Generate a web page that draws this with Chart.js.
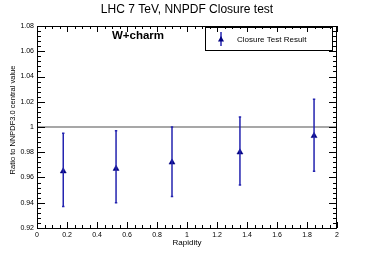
<!DOCTYPE html>
<html>
<head>
<meta charset="utf-8">
<script src="https://cdn.jsdelivr.net/npm/chart.js@4/dist/chart.umd.min.js"></script>
<style>
  html, body { margin: 0; padding: 0; background: #fff; }
  #wrap { width: 374px; height: 254px; }
</style>
</head>
<body>
<div id="wrap"><canvas id="chart" width="374" height="254"></canvas></div>
<script>
// ===== data =====
const rapidity = [0.175, 0.527, 0.90, 1.353, 1.847];
const ratio    = [0.965, 0.967, 0.972, 0.980, 0.993];
const errLow   = [0.937, 0.940, 0.945, 0.954, 0.965];
const errHigh  = [0.995, 0.997, 1.000, 1.008, 1.022];
const refLine  = [[0, 1], [2, 1]];

const FONT = "'Liberation Sans', Arial, sans-serif";
const MARK = '#000080';
const BAR = '#2424b0';

// trims "1.00" -> "1", "0.20" -> "0.2" like ROOT does
const fmt = v => String(Number(v.toFixed(3)));

// ===== error bars =====
const errorBars = {
  id: 'errorBars',
  afterDatasetsDraw(chart) {
    const { ctx, scales: { x, y } } = chart;
    ctx.save();
    ctx.strokeStyle = BAR;
    ctx.lineWidth = 1.5;
    rapidity.forEach((r, i) => {
      const px = x.getPixelForValue(r);
      const top = y.getPixelForValue(errHigh[i]);
      const bot = y.getPixelForValue(errLow[i]);
      ctx.beginPath();
      ctx.moveTo(px, top); ctx.lineTo(px, bot);
      ctx.moveTo(px - 1.2, top); ctx.lineTo(px + 1.2, top);
      ctx.moveTo(px - 1.2, bot); ctx.lineTo(px + 1.2, bot);
      ctx.stroke();
    });
    ctx.restore();
  }
};

// ===== ROOT-like frame, inward ticks, texts, legend =====
const frame = {
  id: 'frame',
  afterDraw(chart) {
    const { ctx, chartArea: a, scales: { x, y } } = chart;
    ctx.save();
    ctx.strokeStyle = '#000';
    ctx.lineWidth = 1;
    ctx.strokeRect(a.left + 0.5, a.top + 0.5, a.right - a.left - 1, a.bottom - a.top);

    ctx.beginPath();
    // x ticks (bottom & top)
    for (let k = 0; k <= 40; k++) {
      const v = k * 0.05;
      const px = Math.round(x.getPixelForValue(v)) + 0.5;
      const len = k % 4 === 0 ? 6 : 3;
      ctx.moveTo(px, a.bottom); ctx.lineTo(px, a.bottom - len);
      ctx.moveTo(px, a.top); ctx.lineTo(px, a.top + len);
    }
    // y ticks (left & right)
    for (let k = 0; k <= 40; k++) {
      const v = 0.92 + k * 0.004;
      const py = Math.round(y.getPixelForValue(v)) + 0.5;
      const len = k % 5 === 0 ? 8 : 4;
      ctx.moveTo(a.left, py); ctx.lineTo(a.left + len, py);
      ctx.moveTo(a.right, py); ctx.lineTo(a.right - len, py);
    }
    ctx.stroke();

    // titles
    ctx.fillStyle = '#000';
    ctx.textAlign = 'center';
    ctx.textBaseline = 'middle';
    ctx.font = '12px ' + FONT;
    ctx.fillText('LHC 7 TeV, NNPDF Closure test', 187, 10);
    ctx.font = '8px ' + FONT;
    ctx.fillText('Rapidity', 187, 243);
    ctx.font = 'bold 11.5px ' + FONT;
    ctx.fillText('W+charm', 138, 36);

    ctx.save();
    ctx.translate(13, 120);
    ctx.rotate(-Math.PI / 2);
    ctx.font = '7.5px ' + FONT;
    ctx.fillText('Ratio to NNPDF3.0 central value', 0, 0);
    ctx.restore();

    // legend box
    ctx.strokeRect(205.5, 27.5, 127, 23);
    ctx.strokeStyle = BAR;
    ctx.lineWidth = 1.5;
    ctx.beginPath();
    ctx.moveTo(221, 32); ctx.lineTo(221, 46);
    ctx.stroke();
    ctx.fillStyle = MARK;
    ctx.beginPath();
    ctx.moveTo(221, 36); ctx.lineTo(224, 41.5); ctx.lineTo(218, 41.5);
    ctx.closePath();
    ctx.fill();
    ctx.fillStyle = '#000';
    ctx.textAlign = 'left';
    ctx.font = '8px ' + FONT;
    ctx.fillText('Closure Test Result', 237, 39.5);
    ctx.restore();
  }
};

new Chart(document.getElementById('chart'), {
  type: 'scatter',
  data: {
    datasets: [
      {
        type: 'line',
        data: refLine.map(([a, b]) => ({ x: a, y: b })),
        borderColor: '#8a8a8a',
        borderWidth: 1.5,
        pointRadius: 0
      },
      {
        data: rapidity.map((r, i) => ({ x: r, y: ratio[i] })),
        pointStyle: 'triangle',
        pointRadius: 3.5,
        backgroundColor: MARK,
        borderColor: MARK,
        borderWidth: 0.5
      }
    ]
  },
  options: {
    responsive: false,
    animation: false,
    events: [],
    layout: { padding: { top: 26, right: 37, left: 0, bottom: 0 } },
    plugins: { legend: { display: false }, tooltip: { enabled: false }, title: { display: false } },
    scales: {
      x: {
        type: 'linear', min: 0, max: 2,
        grid: { display: false, drawTicks: false },
        border: { display: false },
        ticks: { stepSize: 0.2, padding: 3, maxRotation: 0, autoSkip: false,
                 callback: fmt,
                 font: { family: FONT, size: 7 }, color: '#000' },
        afterFit: s => { s.height = 26; }
      },
      y: {
        min: 0.92, max: 1.08,
        grid: { display: false, drawTicks: false },
        border: { display: false },
        ticks: { stepSize: 0.02, padding: 3, autoSkip: false,
                 callback: fmt,
                 font: { family: FONT, size: 7 }, color: '#000' },
        afterFit: s => { s.width = 37; }
      }
    }
  },
  plugins: [errorBars, frame]
});
</script>
</body>
</html>
